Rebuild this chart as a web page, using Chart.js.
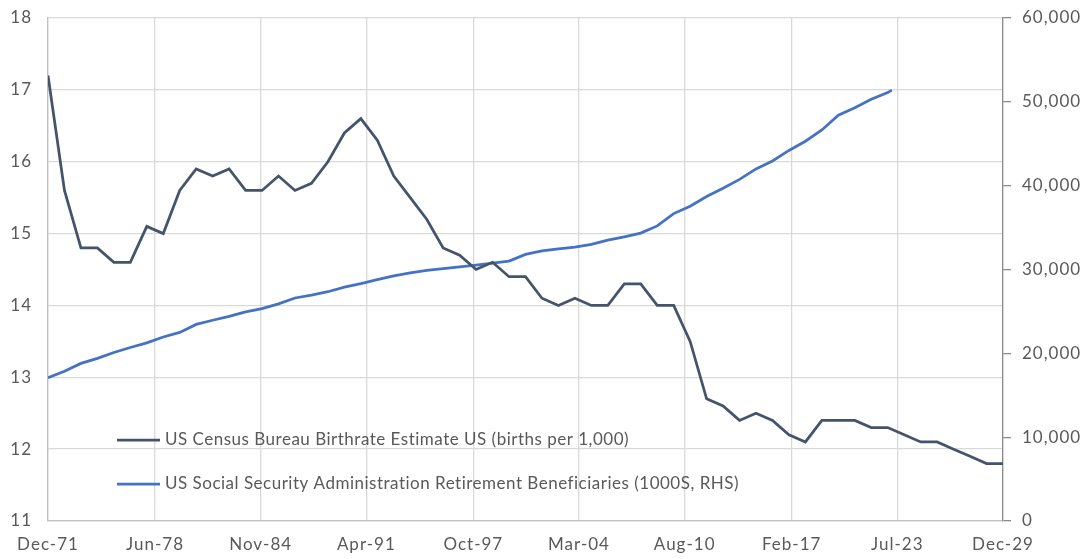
<!DOCTYPE html>
<html>
<head>
<meta charset="utf-8">
<script src="https://cdn.jsdelivr.net/npm/chart.js"></script>
<style>
  body { margin: 0; background: #fff; }
</style>
</head>
<body>
<canvas id="birthChart" width="1086" height="559"></canvas>
<script>
// x axis labels (Excel date axis)
const tickLabels = ['Dec-71', 'Jun-78', 'Nov-84', 'Apr-91', 'Oct-97', 'Mar-04', 'Aug-10', 'Feb-17', 'Jul-23', 'Dec-29'];

// birthrate, births per 1,000 (left axis)
const birthDates = ['Dec-71', 'Dec-72', 'Dec-73', 'Dec-74', 'Dec-75', 'Dec-76', 'Dec-77', 'Dec-78', 'Dec-79', 'Dec-80',
  'Dec-81', 'Dec-82', 'Dec-83', 'Dec-84', 'Dec-85', 'Dec-86', 'Dec-87', 'Dec-88', 'Dec-89', 'Dec-90',
  'Dec-91', 'Dec-92', 'Dec-93', 'Dec-94', 'Dec-95', 'Dec-96', 'Dec-97', 'Dec-98', 'Dec-99', 'Dec-00',
  'Dec-01', 'Dec-02', 'Dec-03', 'Dec-04', 'Dec-05', 'Dec-06', 'Dec-07', 'Dec-08', 'Dec-09', 'Dec-10',
  'Dec-11', 'Dec-12', 'Dec-13', 'Dec-14', 'Dec-15', 'Dec-16', 'Dec-17', 'Dec-18', 'Dec-19', 'Dec-20',
  'Dec-21', 'Dec-22', 'Dec-23', 'Dec-24', 'Dec-25', 'Dec-26', 'Dec-27', 'Dec-28', 'Dec-29'];
const birthRate = [17.2, 15.6, 14.8, 14.8, 14.6, 14.6, 15.1, 15.0, 15.6, 15.9,
  15.8, 15.9, 15.6, 15.6, 15.8, 15.6, 15.7, 16.0, 16.4, 16.6,
  16.3, 15.8, 15.5, 15.2, 14.8, 14.7, 14.5, 14.6, 14.4, 14.4,
  14.1, 14.0, 14.1, 14.0, 14.0, 14.3, 14.3, 14.0, 14.0, 13.5,
  12.7, 12.6, 12.4, 12.5, 12.4, 12.2, 12.1, 12.4, 12.4, 12.4,
  12.3, 12.3, 12.2, 12.1, 12.1, 12.0, 11.9, 11.8, 11.8];

// retirement beneficiaries, 1000s (right axis)
const benDates = ['Dec-71', 'Dec-72', 'Dec-73', 'Dec-74', 'Dec-75', 'Dec-76', 'Dec-77', 'Dec-78', 'Dec-79', 'Dec-80',
  'Dec-81', 'Dec-82', 'Dec-83', 'Dec-84', 'Dec-85', 'Dec-86', 'Dec-87', 'Dec-88', 'Dec-89', 'Dec-90',
  'Dec-91', 'Dec-92', 'Dec-93', 'Dec-94', 'Dec-95', 'Dec-96', 'Dec-97', 'Dec-98', 'Dec-99', 'Dec-00',
  'Dec-01', 'Dec-02', 'Dec-03', 'Dec-04', 'Dec-05', 'Dec-06', 'Dec-07', 'Dec-08', 'Dec-09', 'Dec-10',
  'Dec-11', 'Dec-12', 'Dec-13', 'Dec-14', 'Dec-15', 'Dec-16', 'Dec-17', 'Dec-18', 'Dec-19', 'Dec-20',
  'Dec-21', 'Dec-22', 'Mar-23'];
const benValues = [17100, 17870, 18800, 19400, 20100, 20700, 21250, 21950, 22500, 23450,
  23950, 24400, 24950, 25330, 25900, 26600, 26950, 27350, 27900, 28320,
  28800, 29250, 29600, 29900, 30100, 30300, 30520, 30770, 31000, 31800,
  32230, 32450, 32680, 33000, 33500, 33900, 34340, 35200, 36670, 37550,
  38700, 39700, 40750, 42000, 42950, 44200, 45300, 46650, 48400, 49300,
  50300, 51100, 51400];

const monthIdx = { Jan: 0, Feb: 1, Mar: 2, Apr: 3, May: 4, Jun: 5, Jul: 6, Aug: 7, Sep: 8, Oct: 9, Nov: 10, Dec: 11 };

// 'Dec-71' -> 1971.917
function toYear(label) {
  const parts = label.split('-');
  const yy = parseInt(parts[1], 10);
  const year = yy > 50 ? 1900 + yy : 2000 + yy;
  return year + monthIdx[parts[0]] / 12;
}

function toPoints(dates, values) {
  return dates.map((d, i) => ({ x: toYear(d), y: values[i] }));
}

// fixed axis sizes, no extra label padding around the plot
function fitAxis(size) {
  return function(axis) {
    if (axis.isHorizontal()) axis.height = size;
    else axis.width = size;
    axis.paddingTop = 0;
    axis.paddingBottom = 0;
    axis.paddingLeft = 0;
    axis.paddingRight = 0;
  };
}

// wider letters like the original Excel export
const letterSpace = {
  id: 'letterSpace',
  beforeDraw(chart) {
    chart.ctx.letterSpacing = '1px';
  }
};

// legend drawn inside the plot, bottom left
const insideLegend = {
  id: 'insideLegend',
  afterDraw(chart) {
    const ctx = chart.ctx;
    const area = chart.chartArea;
    const rows = [area.bottom - 81, area.bottom - 37];
    ctx.save();
    ctx.font = '17px Lato';
    ctx.letterSpacing = '0.5px';
    ctx.textBaseline = 'middle';
    chart.data.datasets.forEach((ds, i) => {
      const y = rows[i];
      ctx.strokeStyle = ds.borderColor;
      ctx.lineWidth = ds.borderWidth;
      ctx.beginPath();
      ctx.moveTo(area.left + 69, y);
      ctx.lineTo(area.left + 112, y);
      ctx.stroke();
      ctx.fillStyle = '#595959';
      ctx.fillText(ds.label, area.left + 117, y);
    });
    ctx.restore();
  }
};

Chart.defaults.font.family = 'Lato';
Chart.defaults.font.size = 17;
Chart.defaults.color = '#595959';

const ctx = document.getElementById('birthChart').getContext('2d');
const birthChart = new Chart(ctx, {
  type: 'line',
  data: {
    datasets: [
      {
        label: 'US Census Bureau Birthrate Estimate US (births per 1,000)',
        data: toPoints(birthDates, birthRate),
        yAxisID: 'y',
        borderColor: '#44546a',
        borderWidth: 2.75,
        pointRadius: 0,
        tension: 0
      },
      {
        label: 'US Social Security Administration Retirement Beneficiaries (1000S, RHS)',
        data: toPoints(benDates, benValues),
        yAxisID: 'y1',
        borderColor: '#4472c4',
        borderWidth: 2.75,
        pointRadius: 0,
        tension: 0
      }
    ]
  },
  options: {
    responsive: false,
    animation: false,
    devicePixelRatio: 1,
    layout: { padding: { top: 18, left: 0, right: 0, bottom: 0 } },
    plugins: {
      legend: { display: false },
      tooltip: { enabled: false }
    },
    scales: {
      x: {
        type: 'linear',
        min: toYear(tickLabels[0]),
        max: toYear(tickLabels[tickLabels.length - 1]),
        afterBuildTicks: function(axis) {
          axis.ticks = tickLabels.map(l => ({ value: toYear(l) }));
        },
        afterFit: fitAxis(38),
        ticks: {
          autoSkip: false,
          maxRotation: 0,
          padding: 13,
          callback: function(value, index) { return tickLabels[index]; }
        },
        grid: { color: '#d9d9d9', lineWidth: 1.3, drawTicks: false },
        border: { color: '#bfbfbf', width: 1.3 }
      },
      y: {
        position: 'left',
        min: 11,
        max: 18,
        afterFit: fitAxis(48),
        ticks: { stepSize: 1, padding: 16 },
        grid: { color: '#d9d9d9', lineWidth: 1.3, drawTicks: false },
        border: { color: '#bfbfbf', width: 1.3 }
      },
      y1: {
        position: 'right',
        min: 0,
        max: 60000,
        afterFit: fitAxis(83),
        ticks: {
          stepSize: 10000,
          padding: 11,
          callback: function(value) { return value.toLocaleString('en-US'); }
        },
        grid: { drawOnChartArea: false, tickLength: 8, color: '#8c8c8c', lineWidth: 1.3 },
        border: { color: '#8c8c8c', width: 1.3 }
      }
    }
  },
  plugins: [letterSpace, insideLegend]
});
</script>
</body>
</html>
